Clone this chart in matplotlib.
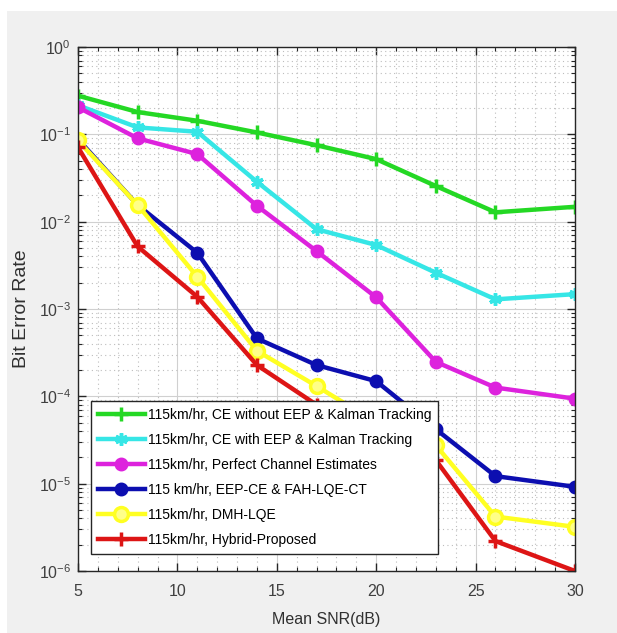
import matplotlib
matplotlib.use("Agg")
import matplotlib.pyplot as plt
from matplotlib.ticker import LogLocator, MultipleLocator, NullFormatter
from matplotlib.patches import Rectangle

snr_db = [5, 8, 11, 14, 17, 20, 23, 26, 30]

ber_ce_no_eep = [0.277, 0.18, 0.143, 0.105, 0.075, 0.052, 0.0256, 0.0128, 0.0148]
ber_ce_eep_kalman = [0.215, 0.12, 0.107, 0.0286, 0.0082, 0.0054, 0.0026, 0.00129, 0.00148]
ber_perfect = [0.204, 0.09, 0.0594, 0.0152, 0.0046, 0.00136, 0.000248, 0.000126, 9.4e-5]
ber_eep_fah = [0.088, 0.0155, 0.0044, 0.00046, 0.000228, 0.000149, 4.2e-5, 1.22e-5, 9.2e-6]
ber_dmh = [0.085, 0.0155, 0.00234, 0.000332, 0.000131, 5.0e-5, 2.75e-5, 4.2e-6, 3.2e-6]
ber_hybrid = [0.071, 0.0052, 0.00138, 0.000228, 8.0e-5, 3.6e-5, 1.86e-5, 2.2e-6, 1.0e-6]

labels = [
    "115km/hr, CE without EEP & Kalman Tracking",
    "115km/hr, CE with EEP & Kalman Tracking",
    "115km/hr, Perfect Channel Estimates",
    "115 km/hr, EEP-CE & FAH-LQE-CT",
    "115km/hr, DMH-LQE",
    "115km/hr, Hybrid-Proposed",
]

FONT = "Liberation Sans"
plt.rcParams["font.family"] = [FONT, "DejaVu Sans"]
plt.rcParams["mathtext.fontset"] = "custom"
plt.rcParams["mathtext.rm"] = FONT
plt.rcParams["mathtext.default"] = "regular"

fig = plt.figure(figsize=(6.17, 6.33), dpi=100)
fig.patch.set_facecolor("#f0f0f0")
# white strip at the top and left of the screenshot
fig.patches.append(Rectangle((0, 1 - 11 / 633), 1, 11 / 633, transform=fig.transFigure,
                             facecolor="white", edgecolor="none", zorder=-1))
fig.patches.append(Rectangle((0, 0), 7 / 617, 1, transform=fig.transFigure,
                             facecolor="white", edgecolor="none", zorder=-1))

ax = fig.add_axes([78 / 617, 1 - 571 / 633, 497 / 617, 524 / 633])
ax.set_facecolor("white")

series = [
    (ber_ce_no_eep, "#24d824", "+", 10, "#24d824"),
    (ber_ce_eep_kalman, "#36e6e6", (6, 2, 0), 9, "#36e6e6"),
    (ber_perfect, "#dd22dd", "o", 7.5, "#dd22dd"),
    (ber_eep_fah, "#0c0eb0", "o", 7.5, "#0c0eb0"),
    (ber_dmh, "#ffff22", "o", 10, "#ffff88"),
    (ber_hybrid, "#dd1515", "+", 10, "#dd1515"),
]

for (vals, color, marker, ms, face), label in zip(series, labels):
    ax.plot(snr_db, vals, color=color, linewidth=3.2, marker=marker, markersize=ms,
            markerfacecolor=face, markeredgecolor=color, markeredgewidth=2.5, label=label)

ax.set_yscale("log")
ax.set_xlim(5, 30)
ax.set_ylim(1e-6, 1)
ax.xaxis.set_major_locator(MultipleLocator(5))
ax.xaxis.set_minor_locator(MultipleLocator(1))
ax.yaxis.set_major_locator(LogLocator(base=10, numticks=10))
ax.yaxis.set_minor_locator(LogLocator(base=10, subs=range(2, 10), numticks=20))
ax.yaxis.set_minor_formatter(NullFormatter())

ax.grid(which="major", color="#d0d0d0", linewidth=0.8, linestyle="-")
ax.grid(which="minor", color="#bdbdbd", linewidth=0.8, linestyle=(0, (1, 3)))
ax.set_axisbelow(True)

ax.tick_params(which="both", direction="in", top=True, right=True, colors="#262626",
               labelcolor="#404040", labelsize=11.5)
ax.tick_params(which="major", length=6, width=1)
ax.tick_params(which="minor", length=3, width=0.8)
ax.tick_params(axis="x", which="major", pad=9)
ax.tick_params(axis="y", which="major", pad=5)
for spine in ax.spines.values():
    spine.set_color("#262626")
    spine.set_linewidth(1.0)

ax.set_xlabel("Mean SNR(dB)", fontsize=11.5, color="#303030", labelpad=10)
ax.set_ylabel("Bit Error Rate", fontsize=14, color="#303030", labelpad=6)

leg = ax.legend(loc="lower left", bbox_to_anchor=(0.026, 0.032), fontsize=10,
                frameon=True, fancybox=False, edgecolor="#262626", framealpha=1,
                handlelength=3.4, handletextpad=0.2, labelspacing=0.8, borderpad=0.5,
                borderaxespad=0)
leg.get_frame().set_linewidth(1.0)

fig.savefig("out.png", dpi=100, facecolor=fig.get_facecolor())
